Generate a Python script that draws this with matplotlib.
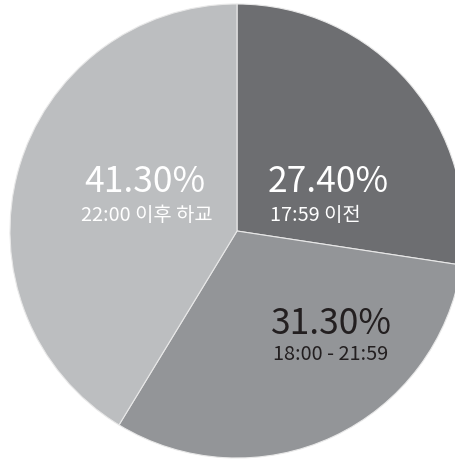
import matplotlib
matplotlib.use('Agg')
from matplotlib import pyplot as plt

plt.rcParams['font.family'] = ['Noto Sans CJK KR', 'DejaVu Sans']

shares = [27.4, 31.3, 41.3]
pct_labels = ['27.40%', '31.30%', '41.30%']
sub_labels = ['17:59 이전', '18:00 - 21:59', '22:00 이후 하교']
colors = ['#6d6e71', '#939598', '#bcbec0']
text_colors = ['white', '#231f20', 'white']

W, H = 456, 460
cx, cy, r = 237, 232, 227  # pie centre/radius in pixels (from top)

fig = plt.figure(figsize=(W / 100, H / 100), dpi=100)
ax = fig.add_axes([0, 0, 1, 1])
ax.pie(shares, colors=colors, startangle=90, counterclock=False,
       wedgeprops=dict(edgecolor='#e8e8e8', linewidth=0.8))
ax.set_aspect('auto')
ax.set_xlim(-cx / r, (W - cx) / r)
ax.set_ylim(-(H - cy) / r, cy / r)
ax.axis('off')

# label positions in pixels (x, y from top), alignment
big_pos = [(268, 182, 'left'), (331, 324, 'center'), (145, 182, 'center')]
sub_pos = [(270, 216, 'left'), (331, 355, 'center'), (147, 216, 'center')]

for i in range(len(shares)):
    x, y, ha = big_pos[i]
    fig.text(x / W, 1 - y / H, pct_labels[i], ha=ha, va='center',
             fontsize=25.5, fontweight='medium', color=text_colors[i])
    x, y, ha = sub_pos[i]
    fig.text(x / W, 1 - y / H, sub_labels[i], ha=ha, va='center',
             fontsize=14.3, color=text_colors[i])

fig.savefig('out.png', dpi=100, facecolor='white')
